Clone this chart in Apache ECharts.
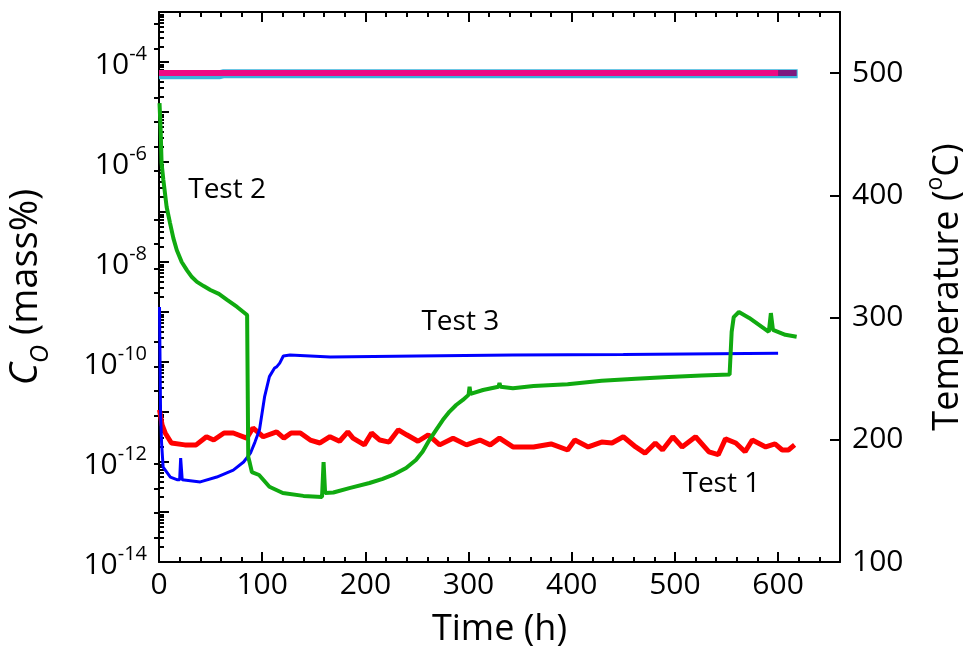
<!DOCTYPE html>
<html>
<head>
<meta charset="utf-8">
<script src="https://cdn.jsdelivr.net/npm/echarts@6/dist/echarts.min.js"></script>
<style>
  html, body { margin: 0; padding: 0; background: #ffffff; }
  #chart { width: 963px; height: 652px; }
</style>
</head>
<body>
<div id="chart"></div>
<script>
// ---------------- Data ----------------
// Test 1 (red): time (h) and oxygen concentration (mass%)
const test1Time = [0.5, 3, 6, 12, 25, 36, 46, 53, 63, 72, 85, 91, 101, 114, 121, 128, 137, 146.6, 156, 165.7, 175, 183, 188, 199, 206, 214, 223, 232, 240, 251, 261, 272, 285, 298, 311, 321, 330, 343, 363, 380, 396, 403, 416, 429, 439, 450, 462, 471, 481, 488, 498, 507, 520, 533, 542, 549, 559, 568, 575, 588, 597, 604, 610, 616];
const test1Value = [1.1e-11, 5.5e-12, 3.8e-12, 2.4e-12, 2.2e-12, 2.2e-12, 3.2e-12, 2.75e-12, 3.8e-12, 3.8e-12, 3.0e-12, 4.8e-12, 3.2e-12, 4.0e-12, 3.0e-12, 3.8e-12, 3.8e-12, 2.75e-12, 2.4e-12, 3.2e-12, 2.6e-12, 4.0e-12, 3.0e-12, 2.2e-12, 3.8e-12, 2.75e-12, 2.5e-12, 4.4e-12, 3.5e-12, 2.6e-12, 3.5e-12, 2.2e-12, 3.0e-12, 2.2e-12, 2.75e-12, 2.2e-12, 3.0e-12, 2.0e-12, 2.0e-12, 2.3e-12, 1.74e-12, 2.75e-12, 2.0e-12, 2.5e-12, 2.4e-12, 3.2e-12, 2.0e-12, 1.5e-12, 2.4e-12, 1.74e-12, 3.2e-12, 2.0e-12, 3.2e-12, 1.6e-12, 1.4e-12, 2.9e-12, 2.4e-12, 1.6e-12, 2.75e-12, 2.0e-12, 2.3e-12, 1.74e-12, 1.74e-12, 2.2e-12];

// Test 2 (green)
const test2Time = [0.5, 1.6, 2.5, 4.2, 7.4, 10.7, 13.9, 17.2, 22, 27, 31.9, 36.8, 43.3, 49.8, 58, 66, 75.7, 85.4, 86, 86.5, 88, 90, 97, 107, 120, 140, 158, 159.5, 161, 169, 184.5, 204, 216.8, 226.6, 239.5, 249, 255.6, 262, 268.6, 275, 281.6, 288, 294.5, 300, 301, 302, 314, 329, 330, 331, 343, 363, 396, 429, 462, 494, 526, 553, 555, 557, 562, 572, 591, 593, 595, 607, 618];
const test2Value = [1.5e-5, 4.4e-6, 9.5e-7, 4.4e-7, 1.26e-7, 6.0e-8, 3.0e-8, 1.74e-8, 1.0e-8, 6.9e-9, 5.0e-9, 4.0e-9, 3.3e-9, 2.75e-9, 2.3e-9, 1.74e-9, 1.26e-9, 8.7e-10, 8.0e-10, 1.26e-12, 9.5e-13, 6.3e-13, 5.5e-13, 3.2e-13, 2.4e-13, 2.1e-13, 2.0e-13, 1.0e-12, 2.4e-13, 2.45e-13, 3.0e-13, 3.8e-13, 4.6e-13, 5.5e-13, 7.6e-13, 1.1e-12, 1.62e-12, 2.75e-12, 4.4e-12, 6.9e-12, 1.02e-11, 1.38e-11, 1.74e-11, 2.2e-11, 3.2e-11, 2.3e-11, 2.75e-11, 3.2e-11, 3.8e-11, 3.2e-11, 3.0e-11, 3.3e-11, 3.6e-11, 4.2e-11, 4.6e-11, 5.0e-11, 5.4e-11, 5.6e-11, 4.0e-10, 7.9e-10, 1.0e-9, 7.6e-10, 4.0e-10, 9.5e-10, 4.4e-10, 3.5e-10, 3.2e-10];

// Test 3 (blue)
const test3Time = [0.5, 1.5, 2.5, 4, 11, 18, 20, 21, 22.5, 40, 56, 72, 82, 88.6, 93, 97.4, 102.3, 107, 112, 114, 117, 120.5, 127, 166, 250, 343, 450, 600];
const test3Value = [1.26e-9, 1.0e-11, 2.4e-12, 7.9e-13, 5.0e-13, 4.4e-13, 4.4e-13, 1.2e-12, 4.4e-13, 4.0e-13, 5.0e-13, 6.9e-13, 1.0e-12, 1.5e-12, 2.5e-12, 4.4e-12, 2.0e-11, 5.1e-11, 7.6e-11, 8.0e-11, 9.5e-11, 1.32e-10, 1.38e-10, 1.26e-10, 1.32e-10, 1.38e-10, 1.41e-10, 1.5e-10];

// Temperatures (°C)
const tempCyanTime = [0, 58, 62, 619];
const tempCyanValue = [498.6, 498.6, 499.4, 499.4];
const tempPurpleTime = [0, 618];
const tempPurpleValue = [500, 500];
const tempPinkTime = [0, 600];
const tempPinkValue = [500, 500];

// Tick definitions
const xMajorTicks = [0, 100, 200, 300, 400, 500, 600];
const xMinorTicks = [20, 40, 60, 80, 120, 140, 160, 180, 220, 240, 260, 280, 320, 340, 360, 380, 420, 440, 460, 480, 520, 540, 560, 580, 620, 640];
const concDecades = [-14, -13, -12, -11, -10, -9, -8, -7, -6, -5, -4, -3];
const concLabelExponents = [-14, -12, -10, -8, -6, -4];
const tempMajorTicks = [100, 200, 300, 400, 500];
const tempMinorTicks = [120, 140, 160, 180, 220, 240, 260, 280, 320, 340, 360, 380, 420, 440, 460, 480, 520, 540];

// Annotations
const annoNames = ['Test 2', 'Test 3', 'Test 1'];
const annoTime = [66, 292, 545];
const annoValue = [2.75e-7, 6.3e-10, 3.6e-13];

// ---------------- Build chart ----------------
const FONT = "'Open Sans', 'Noto Sans', sans-serif";
const concMinorTicks = [];
concDecades.slice(0, -1).forEach(d => {
  for (let k = 2; k <= 9; k++) concMinorTicks.push(d + Math.log10(k));
});
const toLog = (times, vals) => times.map((t, i) => [t, Math.log10(vals[i])]);
const toPts = (times, vals) => times.map((t, i) => [t, vals[i]]);

const AXLINE = { color: '#000', width: 2 };
const TICK_MAJOR = { inside: true, length: 10, lineStyle: { color: '#000', width: 2 } };
const TICK_MINOR = { inside: true, length: 5, lineStyle: { color: '#000', width: 2 } };

function xAx(pos, major, withLabel) {
  return {
    type: 'value', position: pos, min: 0, max: 660,
    axisLine: { show: major, onZero: false, lineStyle: AXLINE },
    axisTick: Object.assign({ show: true, customValues: major ? xMajorTicks : xMinorTicks }, major ? TICK_MAJOR : TICK_MINOR),
    axisLabel: withLabel ? { show: true, customValues: xMajorTicks, fontFamily: FONT, fontSize: 30, color: '#000', margin: 8 } : { show: false },
    splitLine: { show: false },
    name: withLabel ? 'Time (h)' : '',
    nameLocation: 'middle', nameGap: 50,
    nameTextStyle: { fontFamily: FONT, fontSize: 36, color: '#000' }
  };
}

const chart = echarts.init(document.getElementById('chart'), null, { renderer: 'canvas' });
chart.setOption({
  backgroundColor: '#ffffff',
  animation: false,
  grid: { left: 159, right: 123, top: 12, bottom: 90, containLabel: false, outerBoundsMode: 'none' },
  xAxis: [xAx('bottom', true, true), xAx('bottom', false, false), xAx('top', true, false), xAx('top', false, false)],
  yAxis: [
    {
      type: 'value', position: 'left', min: -14, max: -3,
      axisLine: { show: true, onZero: false, lineStyle: AXLINE },
      axisTick: Object.assign({ show: true, customValues: concDecades }, TICK_MAJOR),
      axisLabel: {
        show: true, customValues: concLabelExponents, margin: 12,
        formatter: v => '{b|10}{s|' + v + '}',
        rich: {
          b: { fontFamily: FONT, fontSize: 30, color: '#000', lineHeight: 36, verticalAlign: 'bottom' },
          s: { fontFamily: FONT, fontSize: 20, color: '#000', lineHeight: 20, verticalAlign: 'top' }
        }
      },
      splitLine: { show: false },
      name: '{c|C}{o|O}{n| (mass%)}',
      nameLocation: 'middle', nameGap: 106,
      nameTextStyle: {
        rich: {
          c: { fontFamily: FONT, fontSize: 38, fontStyle: 'italic', color: '#000', lineHeight: 46, verticalAlign: 'top' },
          o: { fontFamily: FONT, fontSize: 25, fontStyle: 'italic', color: '#000', lineHeight: 25, verticalAlign: 'bottom' },
          n: { fontFamily: FONT, fontSize: 38, color: '#000', lineHeight: 46, verticalAlign: 'top' }
        }
      }
    },
    {
      type: 'value', position: 'left', min: -14, max: -3,
      axisLine: { show: false },
      axisTick: Object.assign({ show: true, customValues: concMinorTicks }, TICK_MINOR),
      axisLabel: { show: false },
      splitLine: { show: false }
    },
    {
      type: 'value', position: 'right', min: 100, max: 550,
      axisLine: { show: true, onZero: false, lineStyle: AXLINE },
      axisTick: Object.assign({ show: true, customValues: tempMajorTicks }, TICK_MAJOR),
      axisLabel: { show: true, customValues: tempMajorTicks, fontFamily: FONT, fontSize: 30, color: '#000', margin: 12 },
      splitLine: { show: false },
      name: '{n|Temperature (}{s|o}{n|C)}',
      nameLocation: 'middle', nameGap: 84,
      nameTextStyle: {
        rich: {
          n: { fontFamily: FONT, fontSize: 36, color: '#000', lineHeight: 42, verticalAlign: 'bottom' },
          s: { fontFamily: FONT, fontSize: 23, color: '#000', lineHeight: 23, verticalAlign: 'top' }
        }
      }
    },
    {
      type: 'value', position: 'right', min: 100, max: 550,
      axisLine: { show: false },
      axisTick: Object.assign({ show: true, customValues: tempMinorTicks }, TICK_MINOR),
      axisLabel: { show: false },
      splitLine: { show: false }
    }
  ],
  series: [
    { name: 'T cyan', type: 'line', yAxisIndex: 2, showSymbol: false, data: toPts(tempCyanTime, tempCyanValue), lineStyle: { color: '#3ab4dc', width: 9 } },
    { name: 'T purple', type: 'line', yAxisIndex: 2, showSymbol: false, data: toPts(tempPurpleTime, tempPurpleValue), lineStyle: { color: '#7d1a80', width: 6 } },
    { name: 'T pink', type: 'line', yAxisIndex: 2, showSymbol: false, data: toPts(tempPinkTime, tempPinkValue), lineStyle: { color: '#ec0a84', width: 6 } },
    { name: 'Test 1', type: 'line', yAxisIndex: 0, showSymbol: false, data: toLog(test1Time, test1Value), lineStyle: { color: '#ff0000', width: 5 } },
    { name: 'Test 3', type: 'line', yAxisIndex: 0, showSymbol: false, data: toLog(test3Time, test3Value), lineStyle: { color: '#0000ff', width: 3 } },
    { name: 'Test 2', type: 'line', yAxisIndex: 0, showSymbol: false, data: toLog(test2Time, test2Value), lineStyle: { color: '#10aa10', width: 4 } },
    {
      name: 'labels', type: 'scatter', yAxisIndex: 0, symbolSize: 0, silent: true,
      itemStyle: { opacity: 1 },
      data: annoNames.map((n, i) => ({ name: n, value: [annoTime[i], Math.log10(annoValue[i])] })),
      label: { show: true, position: 'inside', formatter: p => p.name, fontFamily: FONT, fontSize: 28, color: '#000', opacity: 1, textBorderWidth: 0 }
    }
  ]
});
</script>
</body>
</html>
